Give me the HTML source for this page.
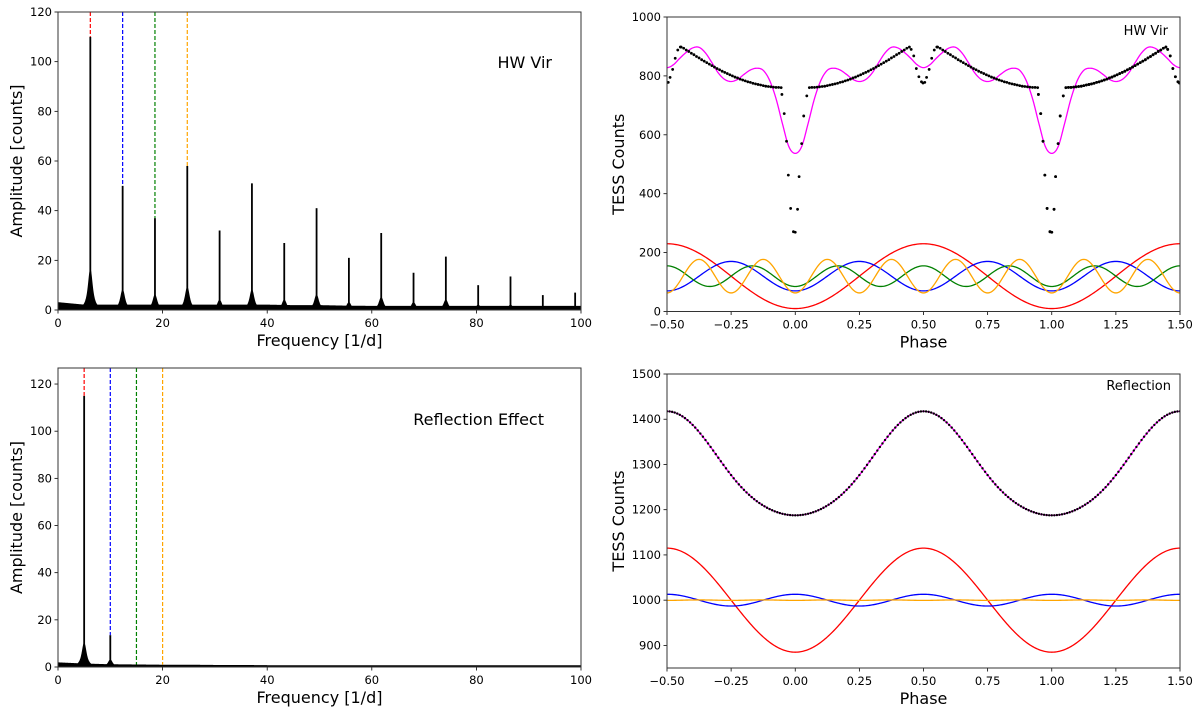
<!DOCTYPE html>
<html><head><meta charset="utf-8"><style>
html,body{margin:0;padding:0;background:#fff;}
svg{display:block;font-family:"DejaVu Sans","Liberation Sans",sans-serif;}
</style></head><body>
<svg id="fig" width="1200" height="715" viewBox="0 0 1200 715" xmlns="http://www.w3.org/2000/svg">
<rect width="1200" height="715" fill="#fff"/>
</svg>
<script>
// ---------- Data ----------
const hwPeakFreqs = [6.18,12.36,18.54,24.72,30.9,37.08,43.26,49.44,55.62,61.8,67.98,74.16,80.34,86.52,92.7,98.88];
const hwPeakAmps  = [110,50,37,58,32,51,27,41,21,31,15,21.5,10,13.5,6,7];
const hwPeakBases = [16,8,6,9,4,8,4,6,3,5,3,4,2,2,1.5,1.5];
const hwNoise = [3,2,2,2,2,2,2,2,2,1.8,1.8,1.6,1.5,1.5,1.5,1.5,1.5,1.5,1.5,1.5,1.5];
const hwMarkFreqs = [6.18,12.36,18.54,24.72];
const hwMarkColors = ["red","blue","green","orange"];
const rePeakFreqs = [5.0,10.0];
const rePeakAmps = [115,13.5];
const rePeakBases = [10,3];
const reNoise = [1.8,1.3,1,0.9,0.8,0.8,0.7,0.7,0.6,0.6,0.6,0.6,0.6,0.6,0.6,0.6,0.6,0.6,0.6,0.6,0.6];
const reMarkFreqs = [5,10,15,20];
const hwCompHarm = [1,2,3,4];
const hwCompOff = [120,120,120,120];
const hwCompAmp = [110,50,35,57];
const hwCompColors = ["red","blue","green","orange"];
const hwModelPhase = [0,0.025,0.05,0.075,0.1,0.125,0.15,0.175,0.2,0.225,0.25,0.275,0.3,0.325,0.35,0.375,0.4,0.425,0.45,0.475,0.5];
const hwModelVal   = [537,560,638,723,785,819,826,820,805,788,781,788,810,845,878,897,895,880,860,838,828];
const hwObsPhase = [-0.052,-0.043,-0.034,-0.027,-0.018,-0.007,0.0,0.009,0.015,0.025,0.033,0.045,
 0.055,0.065,0.075,0.085,0.095,0.105,0.115,0.125,0.135,0.145,0.155,0.165,0.175,0.185,0.195,0.205,0.215,0.225,0.235,0.245,0.255,0.265,0.275,0.285,0.295,0.305,0.315,0.325,0.335,0.345,0.355,0.365,0.375,0.385,0.395,0.405,0.415,0.425,0.435,0.445,
 0.452,0.462,0.472,0.482,0.492,0.498,0.505,0.512,0.522,0.532,0.542,0.552,
 0.555,0.565,0.575,0.585,0.595,0.605,0.615,0.625,0.635,0.645,0.655,0.665,0.675,0.685,0.695,0.705,0.715,0.725,0.735,0.745,0.755,0.765,0.775,0.785,0.795,0.805,0.815,0.825,0.835,0.845,0.855,0.865,0.875,0.885,0.895,0.905,0.915,0.925,0.935,0.945];
const hwObsVal = [737,672,578,463,350,271,269,347,458,570,664,732,
 760,761,761,762,763,764,765,767,769,771,773,775,778,780,783,786,789,793,796,800,804,808,812,816,821,825,830,835,840,845,850,855,861,866,872,877,883,888,894,898,
 890,868,825,797,780,776,778,795,822,860,888,898,
 898,894,888,883,877,872,866,861,855,850,845,840,835,830,825,821,816,812,808,804,800,796,793,789,786,783,780,778,775,773,771,769,767,765,764,763,762,761,761,760];
const reCompHarm = [1,2,4];
const reCompOff = [1000,1000,1000];
const reCompAmp = [115,-13,0.5];
const reCompColors = ["red","blue","orange"];
const reModelOffset = -1710;
// ---------- helpers ----------
const NS="http://www.w3.org/2000/svg";
const svg=document.getElementById('fig');
function mk(tag,attrs,parent){const e=document.createElementNS(NS,tag);for(const k in attrs)e.setAttribute(k,attrs[k]);(parent||svg).appendChild(e);return e;}
function scale(d0,d1,r0,r1){return v=>r0+(v-d0)/(d1-d0)*(r1-r0);}
function axes(p){
  const g=mk('g',{});
  
  
  p.g=g;
  p.sx=scale(p.xd[0],p.xd[1],p.x0,p.x1);
  p.sy=scale(p.yd[0],p.yd[1],p.y1,p.y0);
  const cid='clip'+p.name;
  const cp=mk('clipPath',{id:cid},g);mk('rect',{x:p.x0,y:p.y0,width:p.x1-p.x0,height:p.y1-p.y0},cp);
  p.plot=mk('g',{'clip-path':'url(#'+cid+')'},g);
  
  
  p.xt.forEach((t,i)=>{const x=p.sx(t);
    mk('line',{x1:x,x2:x,y1:p.y1,y2:p.y1+3.5,stroke:'#000','stroke-width':0.8},g);
    const tx=mk('text',{x:x,y:p.y1+17,'font-size':11.5,'text-anchor':'middle'},g);tx.textContent=p.xtl[i];
    
    
  });
  p.yt.forEach((t,i)=>{const y=p.sy(t);
    mk('line',{x1:p.x0-3.5,x2:p.x0,y1:y,y2:y,stroke:'#000','stroke-width':0.8},g);
    const tx=mk('text',{x:p.x0-6,y:y+4,'font-size':11.5,'text-anchor':'end'},g);tx.textContent=p.ytl[i];
    
    
  });
  const xl=mk('text',{x:(p.x0+p.x1)/2,y:p.y1+36,'font-size':16,'text-anchor':'middle'},g);xl.textContent=p.xlab;
  
  
  const yl=mk('text',{x:0,y:0,'font-size':16,'text-anchor':'middle',transform:`translate(${p.ylx},${(p.y0+p.y1)/2}) rotate(-90)`},g);yl.textContent=p.ylab;
  
  
  const tt=mk('text',{x:p.tx,y:p.ty,'font-size':p.tfs,'text-anchor':'end'},g);tt.textContent=p.title;
  
  
  return p;
}
function frame(p){const r=mk('rect',{x:p.x0,y:p.y0,width:p.x1-p.x0,height:p.y1-p.y0,fill:'none',stroke:'#333','stroke-width':1},p.g);
  
  }
function range(a,b,s){const r=[];for(let v=a;v<=b+1e-9;v+=s)r.push(+v.toFixed(4));return r;}
function periodogram(p,freqs,amps,bases,noise,marks){
  const step=0.05;const pts=[];
  for(let f=0;f<=100;f+=step){
    const ni=Math.min(Math.floor(f/5),noise.length-2);const t=(f-ni*5)/5;
    let v=noise[ni]*(1-t)+noise[ni+1]*t;
    freqs.forEach((pf,i)=>{const d=(f-pf)/0.5;v=Math.max(v,bases[i]/(1+d*d));});
    pts.push([p.sx(f),p.sy(v)]);
  }
  let d='M'+p.sx(0)+','+p.sy(0);pts.forEach(q=>d+='L'+q[0].toFixed(2)+','+q[1].toFixed(2));d+='L'+p.sx(100)+','+p.sy(0)+'Z';
  const a=mk('path',{d:d,fill:'#000',stroke:'#000','stroke-width':0.8},p.plot);
  
  
  freqs.forEach((pf,i)=>{
    const l=mk('line',{x1:p.sx(pf),x2:p.sx(pf),y1:p.sy(0),y2:p.sy(amps[i]),stroke:'#000','stroke-width':1.8},p.plot);
    
    
  });
  marks.forEach((mf,i)=>{
    let top=0;freqs.forEach((pf,j)=>{if(Math.abs(pf-mf)<0.3)top=amps[j];});
    if(top===0)top=1;
    const l=mk('line',{x1:p.sx(mf),x2:p.sx(mf),y1:p.y0,y2:p.sy(top),stroke:hwMarkColors[i],'stroke-width':1.2,'stroke-dasharray':'4,2'},p.plot);
    
    
  });
}
const xtF=range(0,100,20);
const p1=axes({name:'hw-vir-periodogram',x0:58,x1:581,y0:12,y1:310,xd:[0,100],yd:[0,120],xt:xtF,xtl:xtF.map(String),yt:range(0,120,20),ytl:range(0,120,20).map(String),xlab:'Frequency [1/d]',ylab:'Amplitude [counts]',ylx:22,title:'HW Vir',tx:552,ty:68,tfs:16});
periodogram(p1,hwPeakFreqs,hwPeakAmps,hwPeakBases,hwNoise,hwMarkFreqs);frame(p1);
const p3=axes({name:'reflection-periodogram',x0:58,x1:581,y0:368,y1:667,xd:[0,100],yd:[0,126.8],xt:xtF,xtl:xtF.map(String),yt:range(0,120,20),ytl:range(0,120,20).map(String),xlab:'Frequency [1/d]',ylab:'Amplitude [counts]',ylx:22,title:'Reflection Effect',tx:544,ty:425,tfs:16});
periodogram(p3,rePeakFreqs,rePeakAmps,rePeakBases,reNoise,reMarkFreqs);frame(p3);
const xtP=range(-0.5,1.5,0.25);
function comp(p,harm,off,amp,colors,i){
  let d='';for(let k=0;k<=400;k++){const ph=-0.5+2*k/400;const v=off[i]-amp[i]*Math.cos(2*Math.PI*harm[i]*ph);d+=(k?'L':'M')+p.sx(ph).toFixed(2)+','+p.sy(v).toFixed(2);}
  const l=mk('path',{d:d,fill:'none',stroke:colors[i],'stroke-width':1.3},p.plot);
  
  
}
const p2=axes({name:'hw-vir-phase-curve',x0:667,x1:1180,y0:17,y1:311.5,xd:[-0.5,1.5],yd:[0,1000],xt:xtP,xtl:xtP.map(v=>(v<0?'\u2212':'')+Math.abs(v).toFixed(2)),yt:range(0,1000,200),ytl:range(0,1000,200).map(String),xlab:'Phase',ylab:'TESS Counts',ylx:624,title:'HW Vir',tx:1168,ty:35,tfs:13});
hwCompHarm.forEach((h,i)=>comp(p2,hwCompHarm,hwCompOff,hwCompAmp,hwCompColors,i));
(function(){
  function model(ph){let f=((ph%1)+1)%1;if(f>0.5)f=1-f;
    let i=0;while(i<hwModelPhase.length-2&&hwModelPhase[i+1]<f)i++;
    const P=j=>hwModelVal[Math.max(0,Math.min(hwModelVal.length-1,j))];
    const t=(f-hwModelPhase[i])/(hwModelPhase[i+1]-hwModelPhase[i]);
    const p0=i===0?P(1):P(i-1),p1v=P(i),p2v=P(i+1),p3v=i+2>=hwModelVal.length?P(i):P(i+2);
    return 0.5*((2*p1v)+(-p0+p2v)*t+(2*p0-5*p1v+4*p2v-p3v)*t*t+(-p0+3*p1v-3*p2v+p3v)*t*t*t);}
  let d='';for(let k=0;k<=800;k++){const ph=-0.5+2*k/800;d+=(k?'L':'M')+p2.sx(ph).toFixed(2)+','+p2.sy(model(ph)).toFixed(2);}
  const l=mk('path',{d:d,fill:'none',stroke:'#ff00ff','stroke-width':1.3},p2.plot);
  
  
})();
[-1,0,1].forEach(c=>hwObsPhase.forEach((ph,i)=>{const x=ph+c;if(x<-0.52||x>1.52)return;
  const dt=mk('circle',{cx:p2.sx(x),cy:p2.sy(hwObsVal[i]),r:1.4,fill:'#000'},p2.plot);
  
  
}));
[1,2].forEach(c=>hwObsPhase.forEach((ph,i)=>{const x=ph+c;if(x>1.52)return;
  const dt=mk('circle',{cx:p2.sx(x),cy:p2.sy(hwObsVal[i]),r:1.4,fill:'#000'},p2.plot);
  
  
}));
frame(p2);
const p4=axes({name:'reflection-phase-curve',x0:667,x1:1180,y0:374,y1:668,xd:[-0.5,1.5],yd:[850,1500],xt:xtP,xtl:xtP.map(v=>(v<0?'\u2212':'')+Math.abs(v).toFixed(2)),yt:range(900,1500,100),ytl:range(900,1500,100).map(String),xlab:'Phase',ylab:'TESS Counts',ylx:624,title:'Reflection',tx:1171,ty:390,tfs:13});
reCompHarm.forEach((h,i)=>comp(p4,reCompHarm,reCompOff,reCompAmp,reCompColors,i));
(function(){
  const m=ph=>{let s=reModelOffset;reCompHarm.forEach((h,i)=>s+=reCompOff[i]-reCompAmp[i]*Math.cos(2*Math.PI*h*ph));return s;};
  let d='';for(let k=0;k<=400;k++){const ph=-0.5+2*k/400;d+=(k?'L':'M')+p4.sx(ph).toFixed(2)+','+p4.sy(m(ph)).toFixed(2);}
  const l=mk('path',{d:d,fill:'none',stroke:'#ff00ff','stroke-width':1.3},p4.plot);
  
  
  for(let k=0;k<=200;k++){const ph=-0.5+k*0.01;
    const dt=mk('circle',{cx:p4.sx(ph),cy:p4.sy(m(ph)),r:1.2,fill:'#000'},p4.plot);
    
    
  }
})();
frame(p4);
</script>
</body></html>
